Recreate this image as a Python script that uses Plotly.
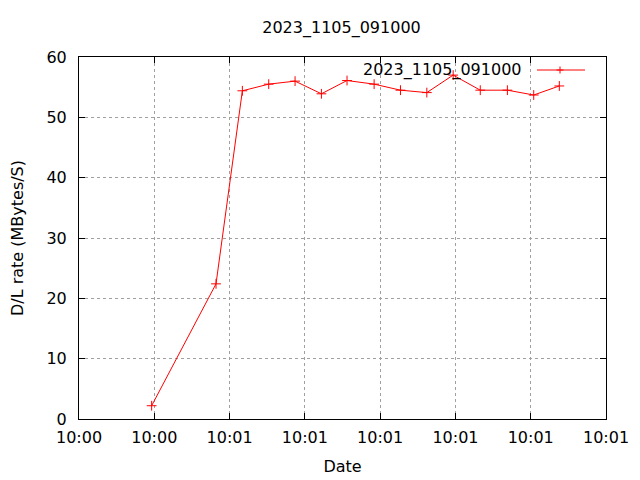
import plotly.graph_objects as go

title_text = "2023_1105_091000"
series_name = "2023_1105_091000"
times = [
    "2023-11-05 10:00:49.65", "2023-11-05 10:00:58.2", "2023-11-05 10:01:01.7",
    "2023-11-05 10:01:05.2", "2023-11-05 10:01:08.7", "2023-11-05 10:01:12.2",
    "2023-11-05 10:01:15.6", "2023-11-05 10:01:19.2", "2023-11-05 10:01:22.7",
    "2023-11-05 10:01:26.2", "2023-11-05 10:01:29.7", "2023-11-05 10:01:33.3",
    "2023-11-05 10:01:36.9", "2023-11-05 10:01:40.4", "2023-11-05 10:01:43.8",
]
rates = [2.2, 22.4, 54.4, 55.5, 56.0, 53.9, 56.1, 55.5, 54.5, 54.1, 57.0, 54.5, 54.5, 53.7, 55.2]
x_range = ["2023-11-05 10:00:40", "2023-11-05 10:01:50"]
y_range = [0, 60]

FONT = "DejaVu Sans"
fig = go.Figure()
fig.add_trace(go.Scatter(
    x=times, y=rates, mode="lines+markers", name=series_name,
    line=dict(color="#ff0000", width=1),
    marker=dict(symbol="cross-thin", size=7, color="#ff0000",
                line=dict(color="#ff0000", width=1)),
    showlegend=False,
))

# legend (gnuplot style: text then sample); page pixels -> paper coords
W, H = 527.0, 362.0
def px(x):
    return (x - 79) / W
def py(y):
    return (419 - y) / H
ly = 70
fig.add_annotation(x=px(524), y=py(ly), xref="paper", yref="paper", text=series_name,
                   showarrow=False, xanchor="right", yanchor="middle",
                   font=dict(family=FONT, size=16, color="#000"))
fig.add_shape(type="line", xref="paper", yref="paper", x0=px(537), x1=px(585),
              y0=py(ly), y1=py(ly), line=dict(color="#ff0000", width=1))
fig.add_shape(type="line", xref="paper", yref="paper", x0=px(556.5), x1=px(563.5),
              y0=py(ly), y1=py(ly), line=dict(color="#ff0000", width=1))
fig.add_shape(type="line", xref="paper", yref="paper", x0=px(560), x1=px(560),
              y0=py(ly - 3.5), y1=py(ly + 3.5), line=dict(color="#ff0000", width=1))

axis_common = dict(
    showline=True, linecolor="#000", linewidth=1, mirror="ticks",
    ticks="inside", ticklen=6, tickcolor="#000", tickwidth=1,
    showgrid=True, gridcolor="#a0a0a0", griddash="dot", gridwidth=1,
    zeroline=False, tickfont=dict(family=FONT, size=16, color="#000"),
    automargin=False,
)
fig.update_xaxes(type="date", range=x_range, tick0="2023-11-05 10:00:40", dtick=10000,
                 tickformat="%H:%M", ticklabelstandoff=4,
                 title=dict(text="Date", font=dict(family=FONT, size=16, color="#000"), standoff=14),
                 **axis_common)
fig.update_yaxes(range=y_range, dtick=10, ticklabelstandoff=8,
                 title=dict(text="D/L rate (MBytes/S)", font=dict(family=FONT, size=16, color="#000"), standoff=32),
                 **axis_common)
# the page body has an 8px margin, so the figure is offset by 8px
fig.update_layout(
    width=640, height=480,
    margin=dict(l=71, r=42, t=49, b=69),
    paper_bgcolor="white", plot_bgcolor="white",
    title=dict(text=title_text, x=333.5 / 640, xanchor="center", y=1 - 19 / 480, yanchor="middle",
               font=dict(family=FONT, size=16, color="#000")),
    showlegend=False,
)
fig.write_html("out.html")
